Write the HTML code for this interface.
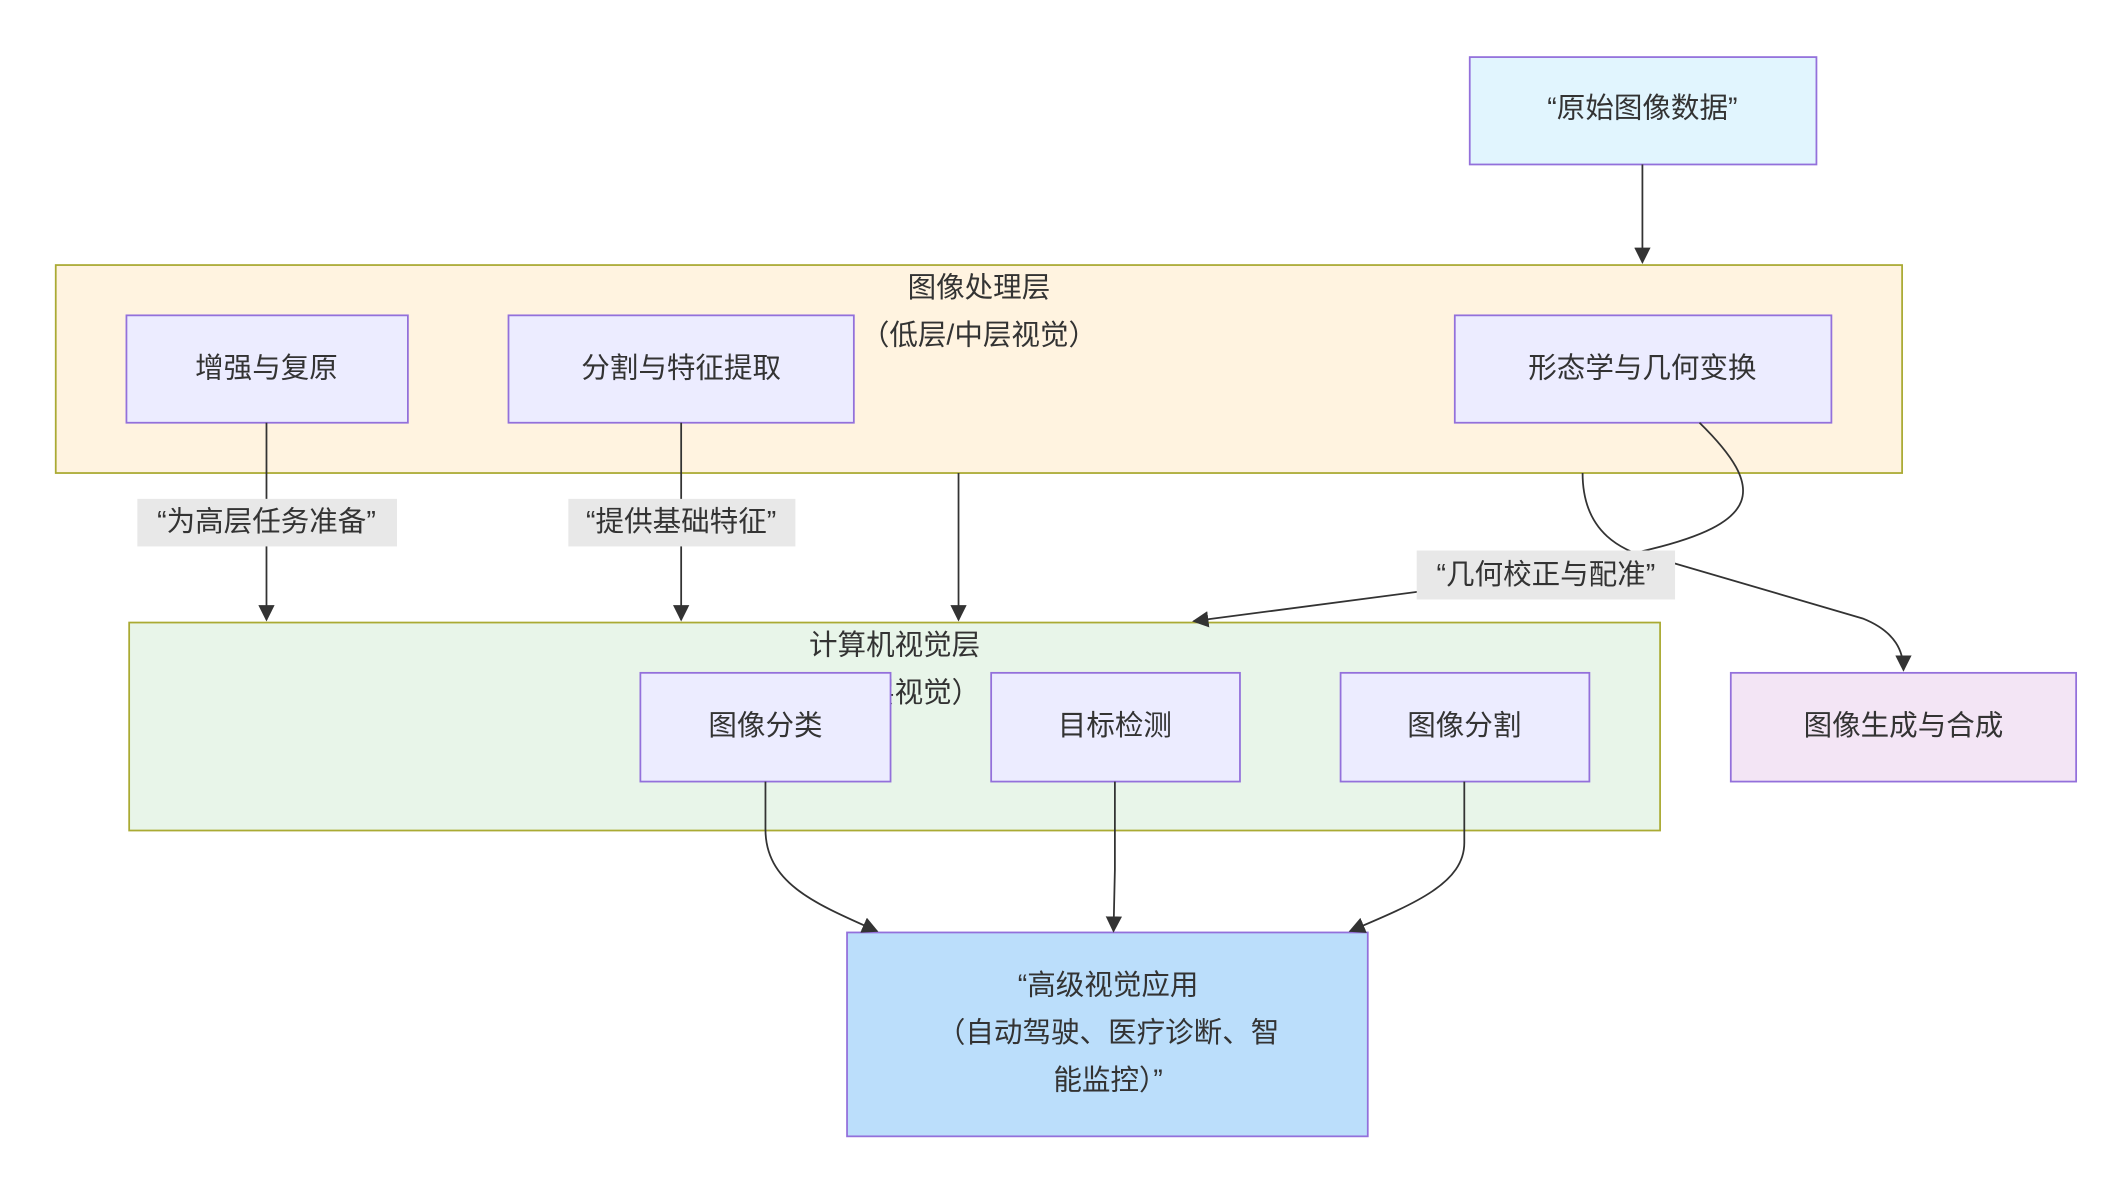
<!DOCTYPE html>
<html><head><meta charset="utf-8"><style>
html,body{margin:0;padding:0;background:#fff;}
svg{display:block;}
text{font-family:"Liberation Sans","Noto Sans CJK SC",sans-serif;font-size:21px;fill:#333;text-anchor:middle;dominant-baseline:central;}
</style></head><body>
<svg width="2121" height="1188" viewBox="0 0 1560 874" preserveAspectRatio="none" xmlns="http://www.w3.org/2000/svg">
<defs><marker id="a" viewBox="0 0 10 10" refX="9" refY="5" markerWidth="12" markerHeight="12" markerUnits="userSpaceOnUse" orient="auto"><path d="M0,0L10,5L0,10z" fill="#333"/></marker></defs>
<rect x="1081" y="42" width="255" height="79" fill="#e1f5fe" stroke="#9370db" stroke-width="1.3"/>
<text x="1208" y="80">“原始图像数据”</text>
<rect x="41" y="195" width="1358" height="153" fill="#fff3e0" stroke="#aaaa33" stroke-width="1.3"/>
<text x="720" y="212">图像处理层</text>
<text x="720" y="247">（低层/中层视觉）</text>
<rect x="95" y="458" width="1126" height="153" fill="#e8f5e9" stroke="#aaaa33" stroke-width="1.3"/>
<text x="658" y="475">计算机视觉层</text>
<text x="658" y="510">（高层视觉）</text>
<g fill="#ececff" stroke="#9370db" stroke-width="1.3">
<rect x="93" y="232" width="207" height="79"/>
<rect x="374" y="232" width="254" height="79"/>
<rect x="1070" y="232" width="277" height="79"/>
<rect x="471" y="495" width="184" height="80"/>
<rect x="729" y="495" width="183" height="80"/>
<rect x="986" y="495" width="183" height="80"/>
</g>
<rect x="1273" y="495" width="254" height="80" fill="#f3e5f5" stroke="#9370db" stroke-width="1.3"/>
<rect x="623" y="686" width="383" height="150" fill="#bbdefb" stroke="#9370db" stroke-width="1.3"/>
<text x="196" y="271">增强与复原</text>
<text x="501" y="271">分割与特征提取</text>
<text x="1208" y="271">形态学与几何变换</text>
<text x="563" y="534">图像分类</text>
<text x="820" y="534">目标检测</text>
<text x="1077" y="534">图像分割</text>
<text x="1400" y="534">图像生成与合成</text>
<text x="815" y="725">“高级视觉应用</text>
<text x="815" y="760">（自动驾驶、医疗诊断、智</text>
<text x="815" y="795">能监控）”</text>
<g fill="none" stroke="#333" stroke-width="1.3">
<path d="M1208,121L1208,193" marker-end="url(#a)"/>
<path d="M196,311L196,456" marker-end="url(#a)"/>
<path d="M501,311L501,456" marker-end="url(#a)"/>
<path d="M705,348L705,456" marker-end="url(#a)"/>
<path d="M1164,348C1164,390 1190,408 1230,414L1370,455C1395,465 1400,480 1400,493" marker-end="url(#a)"/>
<path d="M1250,311C1300,360 1295,385 1210,405L1137,423L878,457" marker-end="url(#a)"/>
<path d="M563,575L563,610C563,650 600,665 645,685" marker-end="url(#a)"/>
<path d="M820,575L820,640L819,685" marker-end="url(#a)"/>
<path d="M1077,575L1077,620C1077,650 1040,665 993,685" marker-end="url(#a)"/>
</g>
<rect x="101" y="367" width="191" height="35" fill="#e8e8e8"/>
<text x="196" y="384">“为高层任务准备”</text>
<rect x="418" y="367" width="167" height="35" fill="#e8e8e8"/>
<text x="501" y="384">“提供基础特征”</text>
<rect x="1042" y="405" width="190" height="36" fill="#e8e8e8"/>
<text x="1137" y="423">“几何校正与配准”</text>
</svg>
</body></html>
